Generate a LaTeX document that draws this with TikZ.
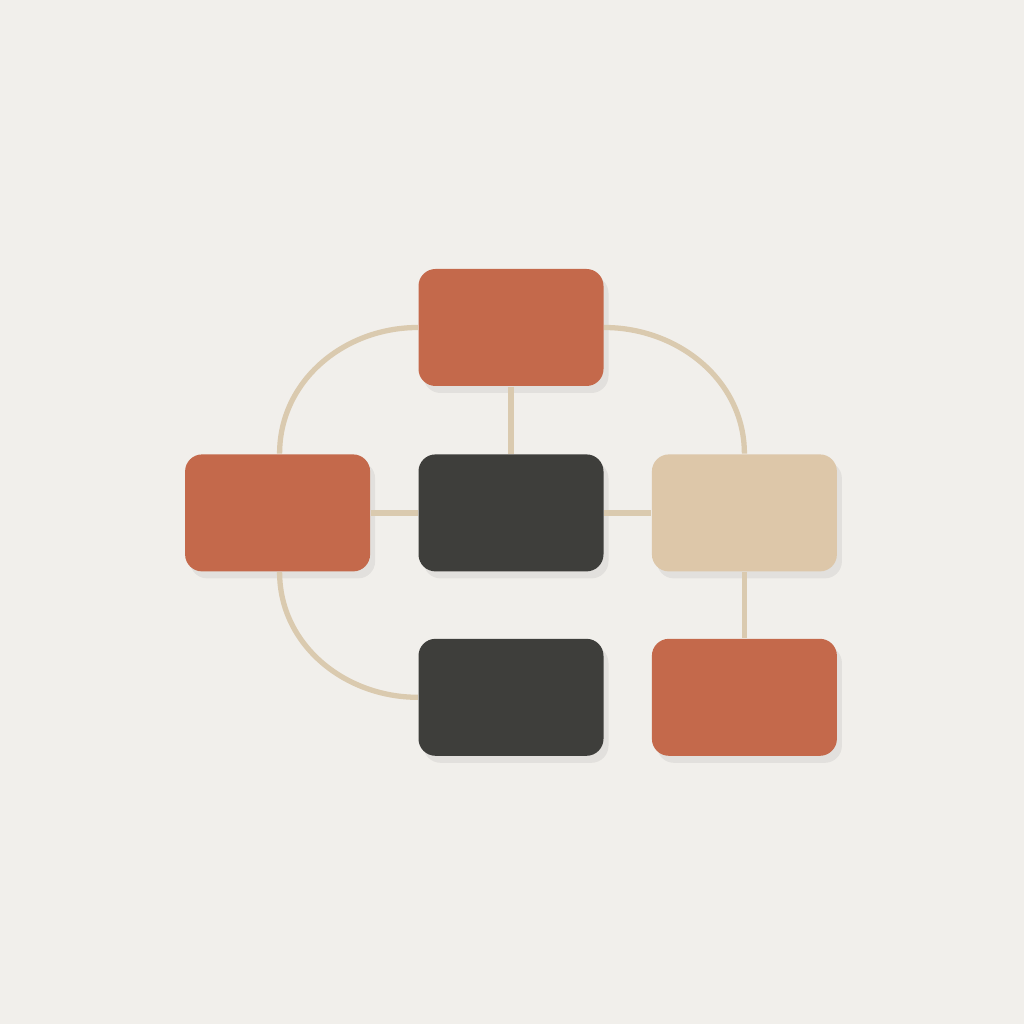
\documentclass[tikz,border=0pt]{standalone}
\usetikzlibrary{positioning,shadows}

\definecolor{bgcolor}{HTML}{F1EFEB}
\definecolor{clay}{HTML}{C4694B}
\definecolor{slate}{HTML}{3E3E3B}
\definecolor{sand}{HTML}{DDC7A9}
\definecolor{cord}{HTML}{DACAAF}

\begin{document}
\begin{tikzpicture}[node distance=0.67cm and 0.47cm,
    block/.style={rectangle, rounded corners=0.17cm, minimum width=1.85cm, minimum height=1.17cm,
        inner sep=0pt, draw=none,
        drop shadow={shadow xshift=0.05cm, shadow yshift=-0.07cm, opacity=0.06, fill=black}},
    link/.style={draw=cord, line width=1.5pt}]

    % background
    \fill[bgcolor] (0,0) rectangle (10.24,10.24);
    \useasboundingbox (0,0) rectangle (10.24,10.24);

    \node[block, fill=clay] (top) at (5.11,6.965) {};
    \node[block, fill=slate] (mid) [below=of top] {};
    \node[block, fill=clay] (left) [left=of mid] {};
    \node[block, fill=sand] (right) [right=of mid] {};
    \node[block, fill=slate] (bot) [below=0.66cm of mid] {};
    \node[block, fill=clay] (botright) [right=of bot] {};

    % straight links
    \path[link]
        (top) -- (mid)
        (left) -- (mid)
        (mid) -- (right)
        (right) -- (botright);

    % curved links round the outside
    \path[link]
        (top.west) to[out=180, in=90] ([xshift=0.02cm]left.north)
        (top.east) to[out=0, in=90] (right.north)
        ([xshift=0.02cm]left.south) to[out=-90, in=180] (bot.west);

\end{tikzpicture}
\end{document}
